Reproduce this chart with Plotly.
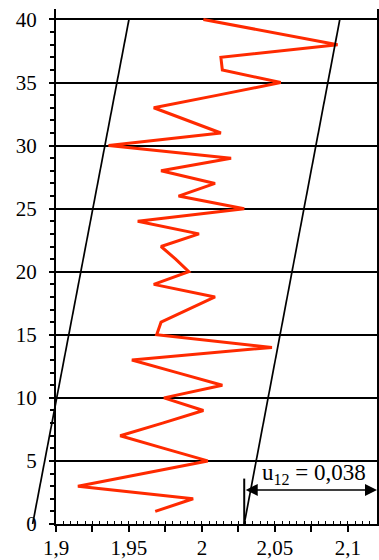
import plotly.graph_objects as go

# --- data -------------------------------------------------------------
# measurement index (vertical axis) and measured value (horizontal axis)
run_index = list(range(1, 41))
measured = [1.968, 1.994, 1.915, 1.959, 2.004, 1.974, 1.944, 1.973, 2.001, 1.974,
            2.014, 1.983, 1.952, 2.048, 1.969, 1.972, 1.991, 2.009, 1.967, 1.991,
            1.982, 1.972, 1.998, 1.956, 2.029, 1.984, 2.009, 1.972, 2.020, 1.936,
            2.013, 1.990, 1.967, 2.011, 2.054, 2.014, 2.013, 2.093, 2.047, 2.001]

# drifting tolerance band (end points at index 0 and 40)
band_y = [0, 40]
band_lo = [1.884, 1.950]
band_hi = [2.029, 2.0945]

# uncertainty label
U12 = 0.038

X_TICKS = [1.9, 1.925, 1.95, 1.975, 2.0, 2.025, 2.05, 2.075, 2.1]
X_TICK_TEXT = ["1,9", "", "1,95", "", "2", "", "2,05", "", "2,1"]

X_RANGE = [1.9, 2.12]
Y_RANGE = [0, 40.83]

# --- layout geometry ---------------------------------------------------
W, H = 379, 560
M_L, M_R, M_T, M_B = 0, 2, 9, 36
AXIS_LEFT_PX = 56                      # where the value axis starts inside the plot area
plot_w = W - M_L - M_R
x_dom_left = AXIS_LEFT_PX / plot_w
px_per_unit = (plot_w - AXIS_LEFT_PX) / (X_RANGE[1] - X_RANGE[0])
# companion axis spanning the full width with the same scale, so the band
# lines may run past the left axis line
X2_RANGE = [X_RANGE[0] - AXIS_LEFT_PX / px_per_unit, X_RANGE[1]]

FONT = "Liberation Serif"
RED = "#ff2a00"

fig = go.Figure()

fig.add_trace(go.Scatter(
    x=measured, y=run_index, mode="lines",
    line=dict(color=RED, width=3), showlegend=False, hoverinfo="skip",
))

# base marker of the dimension arrow
fig.add_trace(go.Scatter(
    x=[band_hi[0], band_hi[0]], y=[0, 3.6], mode="lines",
    line=dict(color="black", width=2), showlegend=False, hoverinfo="skip",
))

for xs in (band_lo, band_hi):
    fig.add_trace(go.Scatter(
        x=xs, y=band_y, mode="lines", xaxis="x2", yaxis="y2",
        line=dict(color="black", width=1.7), showlegend=False, hoverinfo="skip",
    ))

# empty trace that carries the fine tick axis along the bottom
fig.add_trace(go.Scatter(x=[], y=[], xaxis="x3", yaxis="y", showlegend=False,
                         hoverinfo="skip"))

fig.add_annotation(
    x=X_RANGE[1], y=2.7, ax=band_hi[0], ay=2.7,
    xref="x", yref="y", axref="x", ayref="y",
    text="", showarrow=True, arrowside="end+start",
    arrowhead=2, startarrowhead=2, arrowsize=1.6, startarrowsize=1.6,
    arrowwidth=1.5, arrowcolor="black", standoff=0, startstandoff=0,
)
fig.add_annotation(
    x=2.077, y=4.0, xref="x", yref="y", showarrow=False,
    text="u<sub>12</sub> = " + f"{U12:.3f}".replace(".", ","),
    font=dict(family=FONT, size=23, color="black"),
    xanchor="center", yanchor="middle",
)

fig.update_layout(
    width=W, height=H,
    margin=dict(l=M_L, r=M_R, t=M_T, b=M_B, pad=0, autoexpand=False),
    paper_bgcolor="white", plot_bgcolor="rgba(0,0,0,0)",
    showlegend=False,
    font=dict(family=FONT, size=21, color="black"),
    xaxis=dict(
        domain=[x_dom_left, 1], range=X_RANGE, anchor="y", automargin=False,
        tickmode="array", tickvals=X_TICKS, ticktext=X_TICK_TEXT,
        ticks="outside", ticklen=6, tickwidth=1.5, tickcolor="black",
        ticklabelstandoff=-2,
        showgrid=False, zeroline=False,
        showline=True, linecolor="black", linewidth=2,
        tickfont=dict(family=FONT, size=21, color="black"),
    ),
    # fine ticks every 0.005 just above the bottom axis line
    xaxis3=dict(
        overlaying="x", range=X_RANGE, anchor="y", side="bottom", automargin=False,
        tickmode="linear", tick0=1.9, dtick=0.005,
        ticks="inside", ticklen=3, tickwidth=1, tickcolor="black",
        showticklabels=False, showgrid=False, zeroline=False, showline=False,
    ),
    yaxis=dict(
        domain=[0, 1], range=Y_RANGE, anchor="x", automargin=False,
        tickmode="linear", tick0=0, dtick=5,
        ticks="outside", ticklen=5, tickwidth=1.5, tickcolor="black",
        ticklabelstandoff=8,
        minor=dict(tickmode="linear", tick0=0, dtick=1, ticks="outside",
                   ticklen=4, tickwidth=1.5, tickcolor="black", showgrid=False),
        showgrid=True, gridcolor="black", gridwidth=2,
        zeroline=False, showline=True, linecolor="black", linewidth=2, mirror=True,
        tickfont=dict(family=FONT, size=21, color="black"),
    ),
    xaxis2=dict(domain=[0, 1], range=X2_RANGE, anchor="y2", visible=False,
                showgrid=False, zeroline=False),
    yaxis2=dict(domain=[0, 1], range=Y_RANGE, anchor="x2", visible=False,
                showgrid=False, zeroline=False),
)

fig.write_html("out.html")
